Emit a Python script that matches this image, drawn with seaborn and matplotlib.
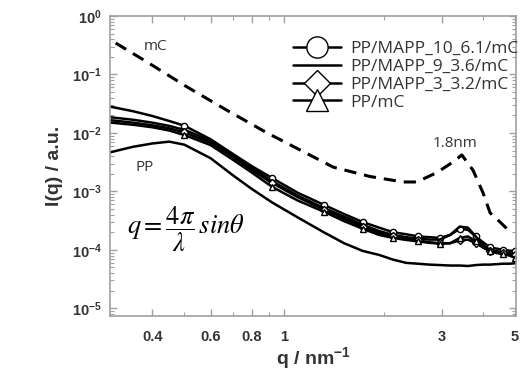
import numpy as np
import pandas as pd
import matplotlib
matplotlib.use('Agg')
import matplotlib.pyplot as plt
import matplotlib.ticker as mticker
import seaborn as sns

# q grid (nm^-1) shared by the sample curves
q = [0.3, 0.35, 0.4, 0.45, 0.5, 0.6, 0.7, 0.8, 0.92, 1.1, 1.32, 1.52, 1.73, 1.94,
     2.14, 2.34, 2.54, 2.75, 2.96, 3.18, 3.4, 3.6, 3.8, 4.0, 4.2, 4.4, 4.6, 4.8, 5.0]

i_mapp10 = [0.028, 0.0235, 0.0195, 0.016, 0.0133, 0.0078, 0.0044, 0.0027, 0.0017, 0.00095,
            0.00059, 0.00041, 0.0003, 0.00024, 0.0002, 0.000185, 0.00017, 0.000165, 0.00016,
            0.00018, 0.00023, 0.00022, 0.00017, 0.000135, 0.00011, 0.000105, 0.0001, 0.000097, 0.000095]
i_mapp9 = [0.0185, 0.0168, 0.015, 0.0132, 0.0113, 0.0074, 0.0042, 0.0025, 0.0015, 0.00085,
           0.00052, 0.00037, 0.00027, 0.00021, 0.00018, 0.000165, 0.000155, 0.00015, 0.00015,
           0.00018, 0.00025, 0.00024, 0.00017, 0.00012, 0.0001, 0.000095, 0.00009, 0.000088, 0.000085]
i_mapp3 = [0.0165, 0.015, 0.0135, 0.012, 0.0102, 0.0068, 0.0039, 0.0023, 0.0014, 0.0008,
           0.00049, 0.00034, 0.00025, 0.000195, 0.00017, 0.000155, 0.000145, 0.000135, 0.00013,
           0.00013, 0.000145, 0.00015, 0.00013, 0.00011, 0.000095, 0.00009, 0.000088, 0.000085, 0.000082]
i_ppmc = [0.015, 0.0138, 0.0125, 0.011, 0.0092, 0.0062, 0.0035, 0.0021, 0.0012, 0.0007,
          0.00045, 0.00031, 0.00023, 0.00018, 0.00016, 0.000148, 0.00014, 0.000132, 0.000128,
          0.00013, 0.00016, 0.00017, 0.00014, 0.00011, 0.000095, 0.000088, 0.000085, 0.00008, 0.000073]
i_pp = [0.0047, 0.0058, 0.0066, 0.0071, 0.0063, 0.0037, 0.0019, 0.0011, 0.00065, 0.00036,
        0.0002, 0.00013, 0.000096, 0.000082, 0.000068, 0.00006, 0.000058, 0.000056, 0.000055,
        0.000054, 0.000054, 0.000053, 0.000055, 0.000056, 0.000056, 0.000057, 0.000058, 0.000058, 0.000059]

# pure mC (dashed)
q_mc = [0.31, 0.39, 0.51, 0.67, 0.89, 1.12, 1.41, 1.82, 2.29, 2.52, 2.9, 3.25, 3.45, 3.73,
        4.0, 4.2, 4.5, 4.8]
i_mc = [0.345, 0.157, 0.061, 0.0247, 0.01, 0.0051, 0.0026, 0.0018, 0.00145, 0.00145, 0.0021,
        0.0032, 0.0042, 0.0023, 0.00094, 0.00043, 0.0003, 0.00021]

marks = [4, 8, 10, 12, 14, 16, 18, 20, 22, 24, 26, 28]

sns.set_style('ticks')
plt.rcParams['font.family'] = ['Liberation Sans', 'DejaVu Sans']
plt.rcParams['mathtext.fontset'] = 'custom'
plt.rcParams['mathtext.bf'] = 'Liberation Sans:bold'
plt.rcParams['mathtext.rm'] = 'Liberation Sans'

fig = plt.figure(figsize=(5.21, 3.71), dpi=100)
ax = fig.add_axes([110/521, 1-316/371, 406/521, 300/371])

mk = dict(mfc='white', mec='black', mew=1.0, markersize=4.5, markevery=marks)
sns.lineplot(x=q, y=i_mapp10, ax=ax, color='black', lw=1.8, marker='o', label='PP/MAPP_10_6.1/mC', **mk)
sns.lineplot(x=q, y=i_mapp9, ax=ax, color='black', lw=1.8, label='PP/MAPP_9_3.6/mC')
sns.lineplot(x=q, y=i_mapp3, ax=ax, color='black', lw=1.8, marker='D', label='PP/MAPP_3_3.2/mC',
             **{**mk, 'markersize': 4})
sns.lineplot(x=q, y=i_ppmc, ax=ax, color='black', lw=1.8, marker='^', label='PP/mC', **mk)
sns.lineplot(x=q, y=i_pp, ax=ax, color='black', lw=1.8, legend=False)
sns.lineplot(x=q_mc, y=i_mc, ax=ax, color='black', lw=2.2, linestyle=(0, (4, 2.6)), legend=False)

ax.set_xscale('log')
ax.set_yscale('log')
ax.set_xlim(0.298, 5.03)
ax.set_ylim(7.4e-6, 1.0)

ax.set_xticks([0.4, 0.6, 0.8, 1, 3, 5], ['0.4', '0.6', '0.8', '1', '3', '5'])
ax.set_xticks([0.5, 0.7, 0.9, 2, 4], minor=True)
ax.xaxis.set_minor_formatter(mticker.NullFormatter())
ax.yaxis.set_major_locator(mticker.LogLocator(base=10, numticks=10))
ax.yaxis.set_minor_locator(mticker.LogLocator(base=10, subs=np.arange(2, 10), numticks=10))
ax.yaxis.set_major_formatter(mticker.FuncFormatter(
    lambda v, p: r'$\mathbf{10^{%d}}$' % int(round(np.log10(v)))))
ax.yaxis.set_minor_formatter(mticker.NullFormatter())

for s in ax.spines.values():
    s.set_color('#a0a0a0')
    s.set_linewidth(1.2)
ax.tick_params(which='both', direction='in', top=True, right=True, color='#a0a0a0',
               labelcolor='#333333')
ax.tick_params(which='major', length=5, width=1)
ax.tick_params(which='minor', length=3, width=0.8)
ax.tick_params(axis='x', labelsize=10.5, pad=10)
ax.tick_params(axis='y', labelsize=10.5, pad=6)
for lab in ax.get_xticklabels():
    lab.set_fontweight('bold')

ax.set_xlabel(r'q / nm$^{\mathbf{-1}}$', fontsize=14, fontweight='bold', color='#333333', labelpad=1)
ax.set_ylabel('I(q) / a.u.', fontsize=14, fontweight='bold', color='#333333', labelpad=6)

lab_font = dict(fontsize=11, family=['Open Sans', 'DejaVu Sans'], color='#333333')
ax.text(0.376, 0.295, 'mC', ha='left', va='center', **lab_font)
ax.text(0.355, 0.0026, 'PP', ha='left', va='center', **lab_font)
ax.text(2.82, 0.0067, '1.8nm', ha='left', va='center', **lab_font)
ax.text(0.336, 0.00022, r'$q = \dfrac{4\pi}{\lambda}\,sin\theta$', ha='left', va='center',
        fontsize=19, math_fontfamily='stix', color='black')

leg = ax.legend(loc='upper right', bbox_to_anchor=(1.035, 0.958), frameon=False, markerscale=3.4,
                handlelength=2.8, handletextpad=0.5, labelspacing=0.1, borderaxespad=0.3,
                prop={'family': ['Open Sans', 'DejaVu Sans'], 'size': 12.5})
for t in leg.get_texts():
    t.set_color('#333333')

fig.savefig('out.png', dpi=100)
